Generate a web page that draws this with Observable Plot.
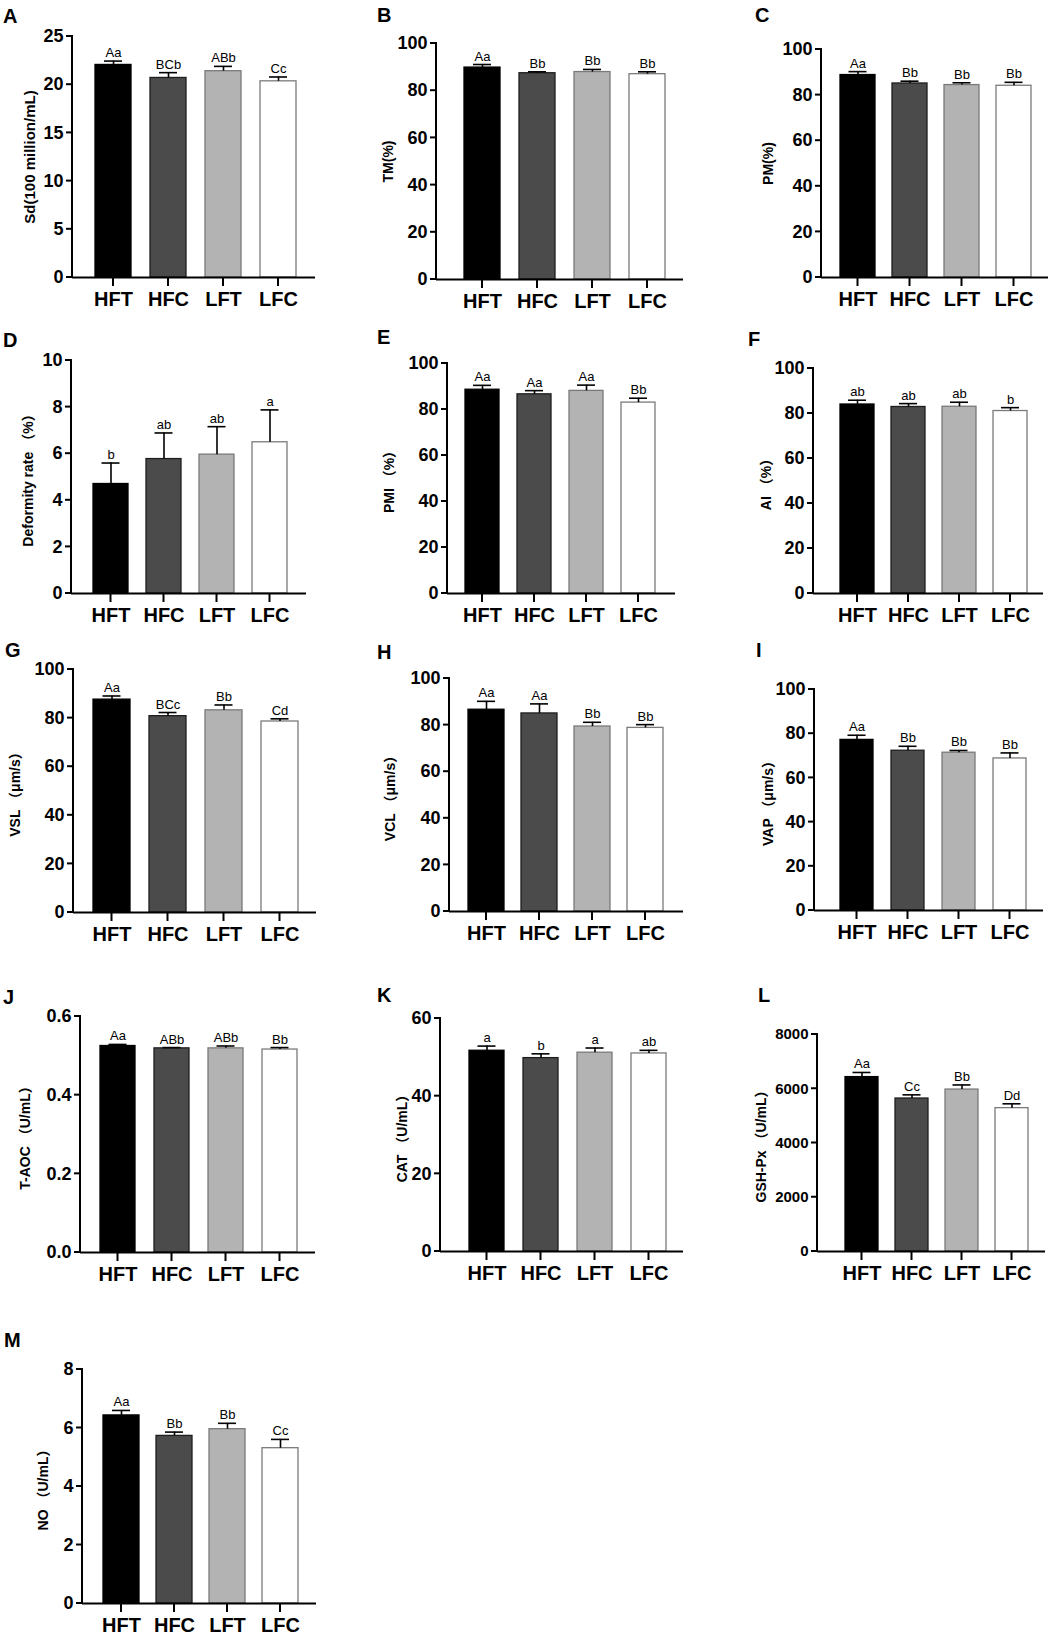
<!DOCTYPE html>
<html><head><meta charset="utf-8">
<script src="https://cdn.jsdelivr.net/npm/d3@7"></script>
<script src="https://cdn.jsdelivr.net/npm/@observablehq/plot@0.6"></script>
<style>
body{margin:0;background:#fff;}
#fig{position:relative;width:1054px;height:1637px;background:#fff;overflow:hidden;font-family:"Liberation Sans",Arial,"Noto Sans CJK SC",sans-serif;}
.panel{position:absolute;}
.tag{position:absolute;font-weight:bold;font-size:20px;line-height:20px;color:#000;}
</style></head><body><div id="fig"></div>
<script>
const groups = ["HFT","HFC","LFT","LFC"];

const sdMean = [22.05, 20.7, 21.4, 20.35];  const sdErr = [0.4, 0.55, 0.5, 0.45];  const sdSig = ["Aa","BCb","ABb","Cc"];
const tmMean = [89.8, 87.4, 87.9, 87.0];    const tmErr = [1.3, 0.6, 1.1, 1.0];     const tmSig = ["Aa","Bb","Bb","Bb"];
const pmMean = [88.8, 85.1, 84.4, 84.1];    const pmErr = [1.5, 1.0, 1.0, 1.5];     const pmSig = ["Aa","Bb","Bb","Bb"];
const defMean = [4.7, 5.77, 5.96, 6.49];    const defErr = [0.9, 1.12, 1.2, 1.39];  const defSig = ["b","ab","ab","a"];
const pmiMean = [88.6, 86.6, 88.1, 83.0];   const pmiErr = [1.9, 1.6, 2.5, 1.9];    const pmiSig = ["Aa","Aa","Aa","Bb"];
const aiMean = [84.0, 82.9, 83.0, 81.1];    const aiErr = [1.9, 1.5, 2.0, 1.5];     const aiSig = ["ab","ab","ab","b"];
const vslMean = [87.6, 80.8, 83.2, 78.6];   const vslErr = [1.5, 1.5, 2.2, 1.1];    const vslSig = ["Aa","BCc","Bb","Cd"];
const vclMean = [86.6, 85.0, 79.4, 78.8];   const vclErr = [3.6, 4.1, 1.8, 1.4];    const vclSig = ["Aa","Aa","Bb","Bb"];
const vapMean = [77.2, 72.3, 71.4, 68.8];   const vapErr = [2.1, 2.0, 1.0, 2.5];    const vapSig = ["Aa","Bb","Bb","Bb"];
const aocMean = [0.525, 0.519, 0.519, 0.516]; const aocErr = [0.004, 0.002, 0.006, 0.005]; const aocSig = ["Aa","ABb","ABb","Bb"];
const catMean = [51.7, 49.8, 51.2, 51.0];   const catErr = [1.2, 1.1, 1.2, 0.8];    const catSig = ["a","b","a","ab"];
const gshMean = [6430, 5640, 5970, 5285];   const gshErr = [170, 135, 170, 160];    const gshSig = ["Aa","Cc","Bb","Dd"];
const noMean = [6.43, 5.73, 5.96, 5.31];    const noErr = [0.17, 0.13, 0.2, 0.3];   const noSig = ["Aa","Bb","Bb","Cc"];

const sdTicks = [0,5,10,15,20,25];
const pctTicks = [0,20,40,60,80,100];
const defTicks = [0,2,4,6,8,10];
const aocTicks = [0,0.2,0.4,0.6];
const catTicks = [0,20,40,60];
const gshTicks = [0,2000,4000,6000,8000];
const noTicks = [0,2,4,6,8];

const fills = ["#000000","#4b4b4b","#b3b3b3","#ffffff"];
const strokes = ["#000000","#1e1e1e","#7a7a7a","#7a7a7a"];

const panels = [
 {tag:"A", title:"Sd(100 million/mL)", mean:sdMean, err:sdErr, sig:sdSig, ticks:sdTicks, ax:72, xe:315, ytop:36, y0:277, b0:94, b3:297, bw:36, tOff:42, tx:3, ty:9},
 {tag:"B", title:"TM(%)", mean:tmMean, err:tmErr, sig:tmSig, ticks:pctTicks, ax:436, xe:683, ytop:43, y0:279, b0:464, b3:665, bw:36, tOff:48, tx:377, ty:8},
 {tag:"C", title:"PM(%)", mean:pmMean, err:pmErr, sig:pmSig, ticks:pctTicks, ax:821, xe:1048, ytop:49, y0:277, b0:839, b3:1031, bw:35, tOff:53, tx:755, ty:8},
 {tag:"D", title:"Deformity rate （%）", mean:defMean, err:defErr, sig:defSig, ticks:defTicks, ax:71, xe:306, ytop:360, y0:593, b0:92, b3:288, bw:35, tOff:43, tx:3, ty:333},
 {tag:"E", title:"PMI （%）", mean:pmiMean, err:pmiErr, sig:pmiSig, ticks:pctTicks, ax:447, xe:675, ytop:363, y0:593, b0:464, b3:656, bw:34, tOff:58, tx:377, ty:330},
 {tag:"F", title:"AI （%）", mean:aiMean, err:aiErr, sig:aiSig, ticks:pctTicks, ax:813, xe:1043, ytop:368, y0:593, b0:839, b3:1027, bw:34, tOff:47, tx:748, ty:332},
 {tag:"G", title:"VSL （μm/s）", mean:vslMean, err:vslErr, sig:vslSig, ticks:pctTicks, ax:73, xe:316, ytop:669, y0:912, b0:93, b3:298, bw:37, tOff:58, tx:5, ty:643},
 {tag:"H", title:"VCL （μm/s）", mean:vclMean, err:vclErr, sig:vclSig, ticks:pctTicks, ax:449, xe:683, ytop:678, y0:911, b0:467, b3:664, bw:36, tOff:59, tx:377, ty:645},
 {tag:"I", title:"VAP （μm/s）", mean:vapMean, err:vapErr, sig:vapSig, ticks:pctTicks, ax:814, xe:1043, ytop:689, y0:910, b0:840, b3:1026, bw:33, tOff:46, tx:756, ty:643},
 {tag:"J", title:"T-AOC （U/mL）", mean:aocMean, err:aocErr, sig:aocSig, ticks:aocTicks, fmt:d3.format(".1f"), ax:80, xe:315, ytop:1016, y0:1252, b0:99, b3:297, bw:35, tOff:55, tx:3, ty:990},
 {tag:"K", title:"CAT （U/mL）", mean:catMean, err:catErr, sig:catSig, ticks:catTicks, ax:440, xe:683, ytop:1018, y0:1251, b0:468, b3:666, bw:35, tOff:38, tx:377, ty:988},
 {tag:"L", title:"GSH-Px （U/mL）", mean:gshMean, err:gshErr, sig:gshSig, ticks:gshTicks, tickFs:15, ax:817, xe:1045, ytop:1034, y0:1251, b0:844, b3:1029, bw:33, tOff:56, tx:758, ty:988},
 {tag:"M", title:"NO （U/mL）", mean:noMean, err:noErr, sig:noSig, ticks:noTicks, ax:82, xe:316, ytop:1369, y0:1603, b0:102, b3:299, bw:36, tOff:39, tx:4, ty:1333}
];

const fig = document.getElementById("fig");
const NS = "http://www.w3.org/2000/svg";
const mL = 75, mR = 10, mT = 22, mB = 45;
const FONT = '"Liberation Sans", Arial, "Noto Sans CJK SC", sans-serif';

function svgLine(x1, y1, x2, y2, w) {
  const ln = document.createElementNS(NS, "line");
  ln.setAttribute("x1", x1); ln.setAttribute("y1", y1);
  ln.setAttribute("x2", x2); ln.setAttribute("y2", y2);
  ln.setAttribute("stroke", "#000"); ln.setAttribute("stroke-width", w);
  return ln;
}

for (const p of panels) {
  const data = groups.map((g, i) => ({g, m: p.mean[i], e: p.err[i], s: p.sig[i], fill: fills[i], stroke: strokes[i]}));
  const left = p.ax - mL, top = p.ytop - mT;
  const width = mL + (p.xe - p.ax) + mR;
  const height = mT + (p.y0 - p.ytop) + mB;
  const step = (p.b3 - p.b0 - p.bw) / 3;
  const padIn = 1 - p.bw / step;
  const ymax = p.ticks[p.ticks.length - 1];
  const fmt = p.fmt || (d => String(d));
  const capInset = (p.bw - 18) / 2;

  const yAxisMark = (index, scales, values, dims) => {
    const g = document.createElementNS(NS, "g");
    const y = (scales && typeof scales.y === "function") ? scales.y
      : (v => dims.marginTop + (1 - v / ymax) * (dims.height - dims.marginTop - dims.marginBottom));
    g.appendChild(svgLine(dims.marginLeft, y(ymax) - 1, dims.marginLeft, y(0) + 1, 2));
    for (const v of p.ticks) g.appendChild(svgLine(dims.marginLeft - 6, y(v), dims.marginLeft, y(v), 2));
    return g;
  };
  const xTickMark = (index, scales, values, dims) => {
    const g = document.createElementNS(NS, "g");
    const x = scales && scales.x;
    if (!x || typeof x.bandwidth !== "function") return g;
    const yb = dims.height - dims.marginBottom;
    for (const k of groups) {
      const c = x(k) + x.bandwidth() / 2;
      g.appendChild(svgLine(c, yb, c, yb + 9, 2));
    }
    return g;
  };

  const chart = Plot.plot({
    width, height,
    marginLeft: mL, marginRight: mR, marginTop: mT, marginBottom: mB,
    style: {fontFamily: FONT, color: "#000", background: "transparent", overflow: "visible"},
    x: {type: "band", domain: groups, range: [p.b0 - left, p.b3 - left], paddingInner: padIn, paddingOuter: 0, axis: null},
    y: {domain: [0, ymax], nice: false, axis: null},
    color: {type: "identity"},
    marks: [
      Plot.barY(data, {x: "g", y: "m", fill: "fill", stroke: "stroke", strokeWidth: 1.3}),
      Plot.ruleX(data, {x: "g", y1: "m", y2: d => d.m + d.e, stroke: "#000", strokeWidth: 1.6}),
      Plot.tickY(data, {x: "g", y: d => d.m + d.e, stroke: "#000", strokeWidth: 1.6, insetLeft: capInset, insetRight: capInset}),
      Plot.text(data, {x: "g", y: d => d.m + d.e, text: "s", dy: -4, lineAnchor: "bottom", fontSize: 13, fill: "#000"}),
      Plot.ruleY([0], {stroke: "#000", strokeWidth: 2}),
      yAxisMark,
      xTickMark,
      Plot.text(p.ticks, {y: d => d, text: d => fmt(d), frameAnchor: "left", dx: -9, textAnchor: "end", lineAnchor: "middle", fontSize: p.tickFs || 18, fontWeight: "bold", fill: "#000"}),
      Plot.text(groups, {x: d => d, text: d => d, frameAnchor: "bottom", dy: 14, lineAnchor: "top", textAnchor: "middle", fontSize: 20, fontWeight: "bold", fill: "#000"}),
      Plot.text([p.title], {frameAnchor: "left", text: d => d, rotate: -90, dx: -p.tOff, textAnchor: "middle", lineAnchor: "middle", fontSize: p.tag === "A" ? 15 : 14, fontWeight: "bold", fill: "#000"})
    ]
  });

  chart.classList.add("panel");
  chart.style.left = left + "px";
  chart.style.top = top + "px";
  fig.appendChild(chart);

  const t = document.createElement("div");
  t.className = "tag";
  t.textContent = p.tag;
  t.style.left = p.tx + "px";
  t.style.top = (p.ty - 3) + "px";
  fig.appendChild(t);
}
</script></body></html>
